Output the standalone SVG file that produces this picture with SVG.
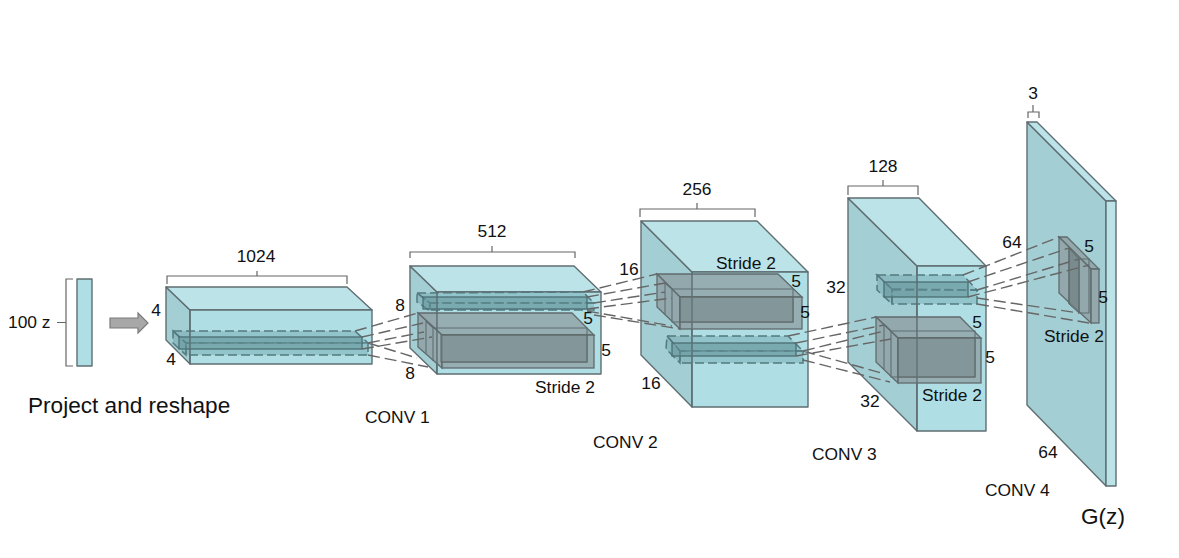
<svg xmlns="http://www.w3.org/2000/svg" width="1179" height="558" viewBox="0 0 1179 558">
<style>
text{font-family:"Liberation Sans",Arial,sans-serif;font-size:17.400px;fill:#111}
.c{text-anchor:middle}
.big{font-size:22.600px}
.top{fill:#bce3e8;stroke:#5f6e72;stroke-width:1.4;stroke-linejoin:round}
.front{fill:#afdfe5;stroke:#5f6e72;stroke-width:1.4;stroke-linejoin:round}
.left{fill:#a3ced3;stroke:#5f6e72;stroke-width:1.4;stroke-linejoin:round}
.edge{fill:none;stroke:#5f6e72;stroke-width:1.1}
.br{fill:none;stroke:#666;stroke-width:1.2}
.s1{fill:#8c9a9c;fill-opacity:.72;stroke:#606b6d;stroke-width:1.3}
.d{fill:#6fa5ab;fill-opacity:.45;stroke:#54797e;stroke-width:1.5;stroke-dasharray:9 4}
.i{fill:#5f9096;fill-opacity:.5;stroke:#4a6f74;stroke-width:1.3}
.cn{fill:none;stroke:#666;stroke-width:1.4;stroke-dasharray:12 5}
</style>
<rect width="1179" height="558" fill="#fff"/>

<g id="input-z">
<rect x="77" y="279" width="15" height="87" class="front"/>
<path class="br" d="M73 279H66V366H73M57 322.500H66"/>
<text x="8" y="328">100 z</text>
<text x="28" y="413" class="big">Project and reshape</text>
</g>

<g id="arrow">
<polygon points="110,318 138,318 138,313 148,323 138,333 138,328 110,328" fill="#a8a8a8" stroke="#7a7a7a" stroke-width="1.2"/>
</g>

<g id="conv0">
<polygon class="left" points="166,287 190,310 190,364 166,340"/>
<polygon class="top" points="166,287 347,287 372,310 190,310"/>
<rect class="front" x="190" y="310" width="182" height="54"/>
<polygon class="d" points="173,331 355,331 368,343 186,343"/>
<polygon class="d" points="173,331 186,343 186,355 173,343"/>
<rect class="d" x="186" y="343" width="182" height="12"/>
<rect class="i" x="179" y="337" width="183" height="12"/>
<line class="edge" x1="190" y1="310" x2="190" y2="364"/>
<path class="br" d="M167 284V276H347V284M257 276V271"/>
<text x="256" y="262" class="c">1024</text>
<text x="156" y="316" class="c">4</text>
<text x="171" y="365" class="c">4</text>
</g>

<g id="conv1">
<polygon class="left" points="410,266 437,292 437,374 410,348"/>
<polygon class="top" points="410,266 574,266 601,292 437,292"/>
<rect class="front" x="437" y="292" width="164" height="82"/>
<polygon class="s1" points="418,313 572,313 594,335 442,335"/>
<polygon class="s1" points="418,313 442,335 442,368 418,347"/>
<rect class="s1" x="442" y="335" width="152" height="33"/>
<path class="edge" d="M426 321V354M426 321L433 328H587V362H441M433 328V361"/>
<rect x="441" y="335" width="146" height="27" fill="#7b8c8f" fill-opacity=".7" stroke="#5c6665"/>
<polygon class="d" points="417,293 583,292 594,303 430,303"/>
<polygon class="d" points="417,293 430,303 430,311 417,302"/>
<rect class="d" x="430" y="303" width="164" height="7"/>
<rect class="i" x="423" y="297" width="164" height="12"/>
<line class="edge" x1="437" y1="292" x2="437" y2="374"/>
<path class="br" d="M410 258V252H575V258M492 252V246"/>
<text x="492" y="237" class="c">512</text>
<text x="400" y="311" class="c">8</text>
<text x="410" y="379" class="c">8</text>
<text x="588" y="324" class="c">5</text>
<text x="606" y="356" class="c">5</text>
<text x="535" y="393">Stride 2</text>
<text x="365" y="423">CONV 1</text>
</g>

<g id="conv2">
<polygon class="left" points="641,221 692,272 692,407 641,355"/>
<polygon class="top" points="641,221 757,221 808,272 692,272"/>
<rect class="front" x="692" y="272" width="116" height="135"/>
<polygon class="s1" points="657,274 778,274 802,297 680,297"/>
<polygon class="s1" points="657,274 680,297 680,329 657,307"/>
<rect class="s1" x="680" y="297" width="122" height="32"/>
<path class="edge" d="M665 283V314M665 283L672 289H793V322H672V289"/>
<rect x="680" y="297" width="113" height="25" fill="#7b8c8f" fill-opacity=".7" stroke="#5c6665"/>
<polygon class="d" points="667,336 788,336 803,351 680,351"/>
<polygon class="d" points="667,336 680,351 680,363 666,349"/>
<rect class="d" x="680" y="351" width="123" height="12"/>
<rect class="i" x="672" y="343" width="124" height="13"/>
<line class="edge" x1="692" y1="272" x2="692" y2="407"/>
<path class="br" d="M640 217V209H755V217M697 209V203"/>
<text x="697" y="195" class="c">256</text>
<text x="629" y="275" class="c">16</text>
<text x="651" y="389" class="c">16</text>
<text x="716" y="269">Stride 2</text>
<text x="796" y="287" class="c">5</text>
<text x="805" y="318" class="c">5</text>
<text x="593" y="448">CONV 2</text>
</g>

<g id="conv3">
<polygon class="left" points="848,198 917,266 917,431 848,362"/>
<polygon class="top" points="848,198 919,198 986,266 917,266"/>
<rect class="front" x="917" y="266" width="69" height="165"/>
<polygon class="s1" points="876,317 960,317 981,338 898,338"/>
<polygon class="s1" points="876,317 898,338 898,383 876,362"/>
<rect class="s1" x="898" y="338" width="83" height="45"/>
<path class="edge" d="M884 324V369M884 324L891 331H975V377H891V331"/>
<rect x="898" y="338" width="77" height="39" fill="#7b8c8f" fill-opacity=".7" stroke="#5c6665"/>
<polygon class="d" points="877,275 963,275 977,290 892,289"/>
<polygon class="d" points="877,275 892,289 892,304 877,290"/>
<rect class="d" x="892" y="290" width="85" height="14"/>
<rect class="i" x="884" y="282" width="84" height="15"/>
<line class="edge" x1="917" y1="266" x2="917" y2="431"/>
<path class="br" d="M848 195V186H918V195M883 186V180"/>
<text x="883" y="172" class="c">128</text>
<text x="836" y="293" class="c">32</text>
<text x="870" y="407" class="c">32</text>
<text x="977" y="328" class="c">5</text>
<text x="990" y="363" class="c">5</text>
<text x="922" y="401">Stride 2</text>
<text x="812" y="460">CONV 3</text>
</g>

<g id="output">
<polygon class="left" points="1027,122 1106,201 1106,486 1027,405"/>
<polygon class="top" points="1027,122 1037,122 1116,201 1106,201"/>
<rect class="top" x="1106" y="201" width="10" height="285"/>
<polygon class="s1" points="1059,237 1067,237 1099,269 1091,269"/>
<polygon class="s1" points="1059,237 1091,269 1091,323 1059,293"/>
<rect class="s1" x="1091" y="269" width="8" height="54"/>
<path class="edge" d="M1069 248V304M1079 259V313H1089V259H1079"/>
<polygon points="1069,248 1079,259 1079,313 1069,304" fill="#6f7f82" fill-opacity=".7" stroke="#5c6665"/>
<path class="br" d="M1028 118V112H1033V105M1033 112H1039V118"/>
<text x="1033" y="99" class="c">3</text>
<text x="1012" y="248" class="c">64</text>
<text x="1048" y="458" class="c">64</text>
<text x="1089" y="252" class="c">5</text>
<text x="1103" y="303" class="c">5</text>
<text x="1044" y="342">Stride 2</text>
<text x="985" y="496">CONV 4</text>
<text x="1081" y="524" class="big">G(z)</text>
</g>

<g id="connectors">
<path class="cn" d="M355 331L418 313M362 337L423 323M368 343L424 332M362 349L432 337M368 343L417 358M368 355L428 367"/>
<path class="cn" d="M583 292L657 274M587 297L665 283M594 303L665 292M587 309L672 298M587 311L672 326M594 315L680 329"/>
<path class="cn" d="M788 336L876 317M796 343L884 325M803 351L884 331M796 356L891 339M803 351L885 374M803 360L890 382"/>
<path class="cn" d="M963 275L1059 237M968 282L1069 248M977 290L1079 259M968 297L1089 265M977 298L1079 313M977 304L1089 323"/>
</g>
</svg>
